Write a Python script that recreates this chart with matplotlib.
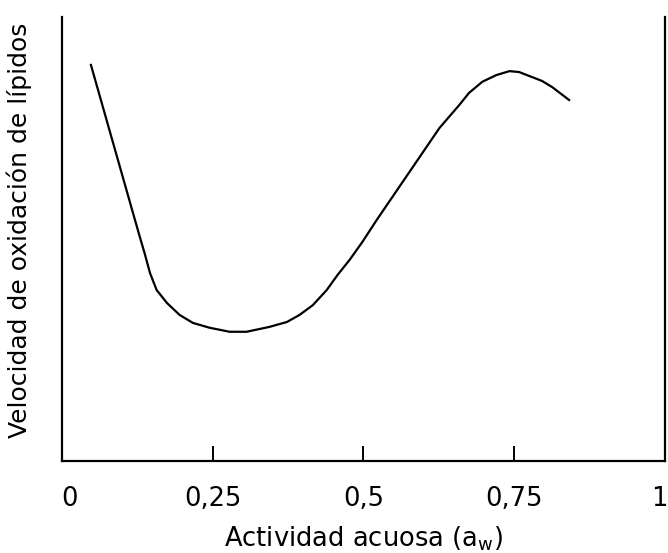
import matplotlib
matplotlib.use("Agg")
import matplotlib.pyplot as plt
import matplotlib.transforms as mtransforms

# curve (x = water activity, y = relative rate)
aw = [0.048, 0.121, 0.129, 0.137, 0.146, 0.157, 0.174, 0.195, 0.217, 0.245,
      0.278, 0.306, 0.344, 0.373, 0.394, 0.416, 0.439, 0.457, 0.477, 0.498,
      0.522, 0.626, 0.659, 0.675, 0.697, 0.720, 0.742, 0.758, 0.796, 0.813,
      0.841]
rate = [0.892, 0.543, 0.505, 0.468, 0.423, 0.385, 0.356, 0.329, 0.311, 0.300,
        0.291, 0.291, 0.302, 0.313, 0.329, 0.351, 0.385, 0.419, 0.453, 0.493,
        0.543, 0.750, 0.802, 0.829, 0.854, 0.869, 0.878, 0.876, 0.856, 0.842,
        0.813]

tick_pos = [0, 0.25, 0.5, 0.75, 1]
tick_labels = ["0", "0,25", "0,5", "0,75", "1"]

fig = plt.figure(figsize=(6.68, 5.53), dpi=100)
ax = fig.add_axes([0.0928, 0.1664, 0.9027, 0.8029])

ax.plot(aw, rate, color="black", lw=1.6, solid_joinstyle="round")

ax.set_xlim(0, 1)
ax.set_ylim(0, 1)
ax.set_xticks(tick_pos)
ax.set_xticklabels(tick_labels, fontsize=18.5)
ax.set_yticks([])
ax.tick_params(axis="x", direction="in", length=11, width=1.4, pad=18)
ticks = ax.xaxis.get_major_ticks()
ticks[0].tick1line.set_visible(False)
ticks[-1].tick1line.set_visible(False)

# nudge the end labels inside like the original
labs = ax.get_xticklabels()
labs[0].set_transform(labs[0].get_transform() +
                      mtransforms.ScaledTranslation(0.08, 0, fig.dpi_scale_trans))
labs[-1].set_transform(labs[-1].get_transform() +
                       mtransforms.ScaledTranslation(-0.06, 0, fig.dpi_scale_trans))

ax.spines["top"].set_visible(False)
for s in ("left", "bottom", "right"):
    ax.spines[s].set_linewidth(1.6)

ax.set_xlabel("Actividad acuosa (a$_\\mathrm{w}$)", fontsize=18.5, labelpad=9)
ax.set_ylabel("Velocidad de oxidación de lípidos", fontsize=18)
ax.yaxis.set_label_coords(-0.05, 0.52)

fig.savefig("out.png", dpi=100)
